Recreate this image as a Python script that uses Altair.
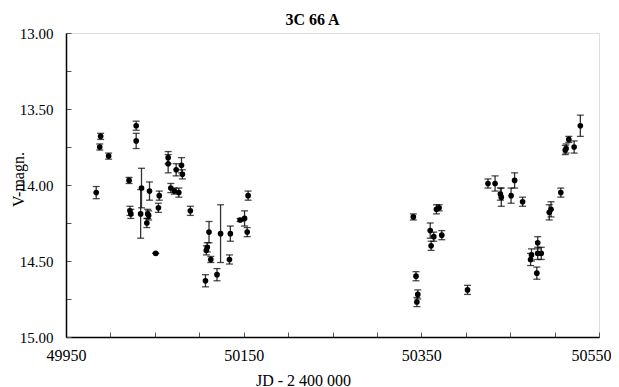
import altair as alt
import pandas as pd

# Julian date - 2 400 000
jd = [49984, 49989, 49988, 49998, 50021, 50022, 50023, 50029, 50029, 50035,
      50034, 50042, 50043, 50041, 50044, 50051, 50055, 50054, 50065, 50065,
      50068, 50072, 50074, 50077, 50080, 50081, 50090, 50111, 50109, 50108,
      50113, 50107, 50120, 50124, 50135, 50134, 50146, 50151, 50154, 50155,
      50341, 50344, 50346, 50345, 50360, 50364, 50373, 50361, 50367, 50370,
      50402, 50425, 50433, 50439, 50440, 50451, 50455, 50464, 50473, 50474,
      50481, 50481, 50485, 50480, 50494, 50496, 50507, 50512, 50513, 50516,
      50522, 50529]
# V magnitude
vmag = [14.05, 13.68, 13.75, 13.81, 13.97, 14.17, 14.19, 13.61, 13.71, 14.02,
        14.19, 14.19, 14.20, 14.25, 14.04, 14.45, 14.07, 14.15, 13.82, 13.86,
        14.02, 14.04, 13.90, 14.05, 13.87, 13.93, 14.17, 14.31, 14.41, 14.43,
        14.49, 14.63, 14.59, 14.32, 14.32, 14.49, 14.23, 14.22, 14.31, 14.07,
        14.21, 14.60, 14.72, 14.77, 14.30, 14.34, 14.33, 14.40, 14.16, 14.15,
        14.69, 13.99, 13.99, 14.06, 14.08, 14.07, 13.97, 14.11, 14.49, 14.46,
        14.38, 14.45, 14.45, 14.58, 14.18, 14.16, 14.05, 13.77, 13.76, 13.70,
        13.75, 13.61]
# error (mag)
verr = [0.04, 0.02, 0.02, 0.02, 0.02, 0.03, 0.03, 0.03, 0.05, 0.13,
        0.16, 0.03, 0.03, 0.03, 0.06, 0.0, 0.03, 0.03, 0.04, 0.06,
        0.03, 0.02, 0.04, 0.03, 0.05, 0.03, 0.03, 0.07, 0.03, 0.03,
        0.02, 0.04, 0.04, 0.19, 0.05, 0.03, 0.01, 0.05, 0.03, 0.03,
        0.02, 0.03, 0.03, 0.03, 0.05, 0.03, 0.03, 0.03, 0.03, 0.02,
        0.03, 0.03, 0.05, 0.04, 0.06, 0.05, 0.05, 0.03, 0.04, 0.04,
        0.04, 0.04, 0.04, 0.04, 0.05, 0.05, 0.03, 0.03, 0.03, 0.02,
        0.04, 0.07]

x_labels = [49950, 50150, 50350]
x_last_label = [50550]
x_minor = list(range(49950, 50551, 50))
y_labels = [13.0, 13.5, 14.0, 14.5, 15.0]
y_minor = [13.0, 13.25, 13.5, 13.75, 14.0, 14.25, 14.5, 14.75, 15.0]

df = pd.DataFrame({"jd": jd, "mag": vmag, "err": verr})
df["lo"] = df["mag"] - df["err"]
df["hi"] = df["mag"] + df["err"]

FONT = "Liberation Serif"
xs = alt.Scale(domain=[49950, 50550], nice=False, zero=False)
ys = alt.Scale(domain=[13, 15], nice=False, zero=False, reverse=True)

x_main_axis = alt.Axis(values=x_labels, format="d", ticks=False, grid=False,
                       domainColor="black", domainWidth=1.5, labelFlush=False,
                       labelFont=FONT, labelFontSize=16, labelColor="black",
                       labelPadding=10, title="JD - 2 400 000",
                       titleFont=FONT, titleFontSize=16, titleFontWeight="normal",
                       titleColor="black", titleX=237, titleY=43,
                       titleBaseline="middle", orient="bottom")
x_last_axis = alt.Axis(values=x_last_label, format="d", ticks=False, grid=False,
                       domain=False, labelFlush=True, labelFlushOffset=12,
                       labelFont=FONT, labelFontSize=16, labelColor="black",
                       labelPadding=10, title=None, orient="bottom")
y_main_axis = alt.Axis(values=y_labels, format=".2f", ticks=False, grid=False,
                       domainColor="black", domainWidth=1.5, labelFlush=False,
                       labelFont=FONT, labelFontSize=15, labelColor="black",
                       labelPadding=13, title="V-magn.",
                       titleFont=FONT, titleFontSize=16, titleFontWeight="normal",
                       titleColor="black", titleAngle=270, titleX=-48, titleY=146,
                       titleBaseline="middle", orient="left")
x_tick_axis = alt.Axis(values=x_minor, labels=False, domain=False, grid=False,
                       tickSize=5, offset=-5, tickColor="#555555", title=None,
                       orient="bottom")
y_tick_axis = alt.Axis(values=y_minor, labels=False, domain=False, grid=False,
                       tickSize=5, offset=-5, tickColor="#555555", title=None,
                       orient="left")

base = alt.Chart(df)

bars = base.mark_rule(color="#333333", strokeWidth=1.3).encode(
    x=alt.X("jd:Q", scale=xs, axis=x_tick_axis),
    y=alt.Y("lo:Q", scale=ys, axis=y_tick_axis),
    y2="hi:Q",
)
caps_lo = base.mark_tick(orient="horizontal", color="black", size=7, thickness=1.3).encode(
    x=alt.X("jd:Q", scale=xs, axis=x_last_axis),
    y=alt.Y("lo:Q", scale=ys, axis=None),
)
caps_hi = base.mark_tick(orient="horizontal", color="black", size=7, thickness=1.3).encode(
    x=alt.X("jd:Q", scale=xs, axis=None),
    y=alt.Y("hi:Q", scale=ys, axis=None),
)
points = base.mark_circle(color="black", size=32, opacity=1).encode(
    x=alt.X("jd:Q", scale=xs, axis=x_main_axis),
    y=alt.Y("mag:Q", scale=ys, axis=y_main_axis),
)

chart = alt.layer(bars, caps_lo, caps_hi, points).resolve_axis(
    x="independent", y="independent"
).properties(
    width=533, height=304,
    padding={"left": 58, "top": 25, "right": 12, "bottom": 54},
    autosize=alt.AutoSizeParams(type="none"),
    title=alt.TitleParams("3C 66 A", font=FONT, fontSize=16, fontWeight="bold",
                          color="black", anchor="middle", dx=-20, offset=-2),
).configure_view(stroke="#808080", strokeWidth=2).configure(background="white")

chart.save("out.html", embed_options={"renderer": "svg", "actions": False})
